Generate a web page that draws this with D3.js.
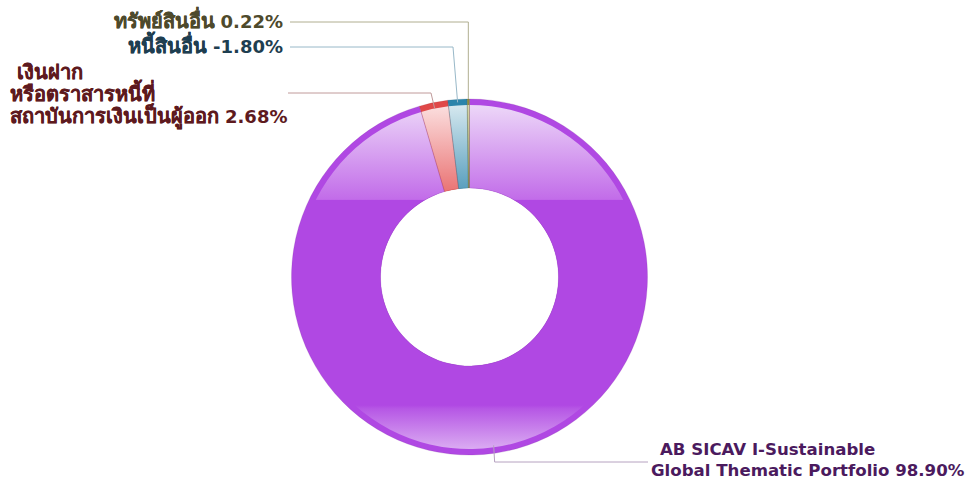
<!DOCTYPE html>
<html>
<head>
<meta charset="utf-8">
<script src="https://cdn.jsdelivr.net/npm/d3@7"></script>
<style>
  body { margin: 0; background: #fff; }
  svg { display: block; }
  text { font-family: "DejaVu Sans", Verdana, sans-serif; font-weight: bold; }
</style>
</head>
<body>
<svg id="chart" width="978" height="481"></svg>
<script>
// Chart data
const categories = ["AB SICAV I-Sustainable Global Thematic Portfolio",
    "เงินฝาก หรือตราสารหนี้ที่สถาบันการเงินเป็นผู้ออก", "หนี้สินอื่น", "ทรัพย์สินอื่น"];
const values = [98.90, 2.68, -1.80, 0.22];
// label lines as shown (value is appended to the last line)
const labelLines = [
    ["AB SICAV I-Sustainable", "Global Thematic Portfolio"],
    [" เงินฝาก", "หรือตราสารหนี้ที่", "สถาบันการเงินเป็นผู้ออก"],
    ["หนี้สินอื่น"],
    ["ทรัพย์สินอื่น"]
];
const isThai = [false, true, true, true];
const rimColors = ["#b048e3", "#e04848", "#2a84aa", "#8c8a3c"];
const topColors = ["#ecd6f8", "#fbdede", "#d4e7ee", "#d8d6a8"];
const midColors = ["#c26ce9", "#e86a6a", "#4a96b8", "#8c8a3c"];
const textColors = ["#4b1a5e", "#5e1a1e", "#1e3e50", "#4e4a2c"];
const lineColors = ["#b6a2c0", "#c09a9a", "#98b8c8", "#b0ae90"];

const svg = d3.select("#chart");
const cx = 469.5, cy = 277, rOuter = 178, rRim = 172, rInner = 89;

const pie = d3.pie().sort(null).value(d => Math.abs(d));
const arcs = pie(values);
const fmt = v => d3.format(".2f")(v).replace("\u2212", "-") + "%";

const defs = svg.append("defs");
rimColors.forEach((c, i) => {
    const g = defs.append("linearGradient")
        .attr("id", "grad" + i)
        .attr("gradientUnits", "userSpaceOnUse")
        .attr("x1", 0).attr("x2", 0)
        .attr("y1", -rOuter).attr("y2", rOuter);
    g.append("stop").attr("offset", 0.02).attr("stop-color", topColors[i]);
    g.append("stop").attr("offset", 0.282).attr("stop-color", midColors[i]);
    g.append("stop").attr("offset", 0.285).attr("stop-color", c);
    g.append("stop").attr("offset", 0.86).attr("stop-color", c);
    g.append("stop").attr("offset", 0.87).attr("stop-color", d3.interpolateRgb(c, "#fff")(0.08));
    g.append("stop").attr("offset", 0.985).attr("stop-color", d3.interpolateRgb(c, "#fff")(0.55));
});

const gPie = svg.append("g").attr("transform", `translate(${cx},${cy})`);
const outerArc = d3.arc().innerRadius(rInner).outerRadius(rOuter);
const innerArc = d3.arc().innerRadius(rInner).outerRadius(rRim);

gPie.selectAll("path.rim")
    .data(arcs)
    .join("path")
    .attr("class", "rim")
    .attr("d", outerArc)
    .attr("fill", (d, i) => rimColors[i]);

gPie.selectAll("path.body")
    .data(arcs)
    .join("path")
    .attr("class", "body")
    .attr("d", innerArc)
    .attr("fill", (d, i) => `url(#grad${i})`);

gPie.selectAll("path.edge")
    .data(arcs)
    .join("path")
    .attr("class", "edge")
    .attr("d", outerArc)
    .attr("fill", "none")
    .attr("stroke", (d, i) => d3.color(rimColors[i]).darker(1))
    .attr("stroke-opacity", 0.35)
    .attr("stroke-width", 0.6);

// Labels and leader lines
const anchorR = [170, 172, 175, 178];
const layout = [
    { y: 462, x: null, textX: 648, tx: [660, 651], ty: [455, 476] },
    { y: 93, x: 431, textX: 288, tx: [10, 10, 10], ty: [79, 101, 123] },
    { y: 47, x: 453, textX: 290, tx: [283], ty: [53] },
    { y: 22, x: null, textX: 290, tx: [283], ty: [28] }
];

function addText(s, x, y, color, thai, anchor) {
    const t = svg.append("text")
        .attr("x", x)
        .attr("y", y)
        .attr("fill", color)
        .attr("text-anchor", anchor)
        .attr("xml:space", "preserve")
        .attr("font-size", thai ? 20 : 16.6)
        .text(s);
    if (thai) {
        // thai fallback font has no bold face, thicken it a bit
        t.attr("stroke", color).attr("stroke-width", 0.3);
    }
    return t;
}

arcs.forEach((a, i) => {
    const mid = (a.startAngle + a.endAngle) / 2;
    const px = cx + anchorR[i] * Math.sin(mid);
    const py = cy - anchorR[i] * Math.cos(mid);
    const e = layout[i];
    let pts;
    if (i == 0) {
        pts = [[px, py], [px + 1, e.y], [e.textX, e.y]];
    } else {
        const ex = e.x == null ? px : e.x;
        pts = [[px, py], [ex, e.y], [e.textX, e.y]];
    }
    svg.append("path")
        .attr("d", d3.line()(pts))
        .attr("fill", "none")
        .attr("stroke", lineColors[i])
        .attr("stroke-width", 1);

    const n = labelLines[i].length;
    const valueStr = fmt(values[i]);
    labelLines[i].forEach((s, j) => {
        const last = j == n - 1;
        if (!last) {
            addText(s, e.tx[j], e.ty[j], textColors[i], isThai[i], "start");
        } else if (!isThai[i]) {
            addText(s + " " + valueStr, e.tx[j], e.ty[j], textColors[i], false, "start");
        } else if (i >= 2) {
            // right aligned: value first, name to its left
            const v = addText(valueStr, e.tx[j], e.ty[j], textColors[i], false, "end")
                .attr("font-size", 18);
            const w = v.node().getComputedTextLength();
            addText(s, e.tx[j] - w - 6, e.ty[j], textColors[i], true, "end");
        } else {
            const nm = addText(s, e.tx[j], e.ty[j], textColors[i], true, "start");
            const w = nm.node().getComputedTextLength();
            addText(valueStr, e.tx[j] + w + 6, e.ty[j], textColors[i], false, "start")
                .attr("font-size", 18);
        }
    });
});
</script>
</body>
</html>
